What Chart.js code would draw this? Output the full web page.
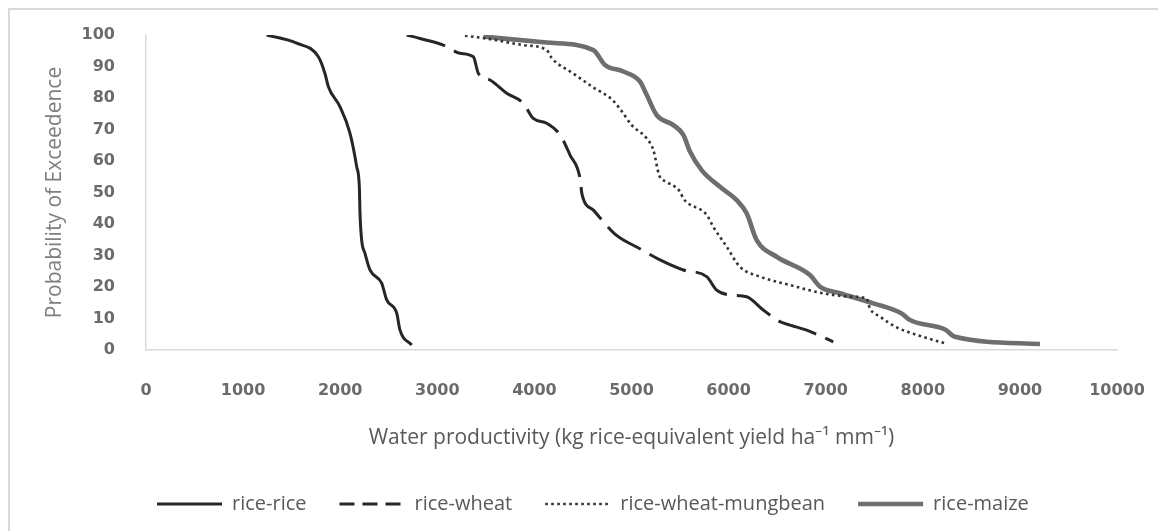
<!DOCTYPE html>
<html>
<head>
<meta charset="utf-8">
<script src="https://cdn.jsdelivr.net/npm/chart.js@4"></script>
<style>
html,body{margin:0;padding:0;background:#fff;overflow:hidden;width:1158px;height:531px;}
#frame{position:absolute;left:8px;top:8px;width:1300px;height:700px;border-left:2px solid #d9d9d9;border-top:2px solid #d9d9d9;}
#wrap{position:absolute;left:0;top:0;width:1158px;height:531px;}
</style>
</head>
<body>
<div id="frame"></div>
<div id="wrap"><canvas id="c" width="1158" height="531"></canvas></div>
<script>
// ---- data ----
const seriesNames = ['rice-rice', 'rice-wheat', 'rice-wheat-mungbean', 'rice-maize'];

const riceRiceX = [1243, 1552, 1775, 1843, 1878, 1998, 2101, 2170, 2197, 2204, 2221, 2255, 2307, 2427, 2479, 2582, 2616, 2736];
const riceRiceY = [100, 97.4, 93.1, 87.8, 83.6, 77.2, 68.8, 58.2, 51.8, 43.4, 34.9, 30.7, 25.4, 21.2, 15.9, 11.7, 6.3, 1.6];

const riceWheatX = [2685, 2822, 3062, 3234, 3371, 3423, 3543, 3715, 3886, 3989, 4127, 4264, 4367, 4470, 4490, 4607, 4830, 5095, 5294, 5534, 5774, 5877, 6014, 6186, 6357, 6529, 6633, 6804, 7078];
const riceWheatY = [100, 98.9, 96.8, 94.2, 93.1, 87.8, 85.7, 81.5, 78.3, 73.5, 72, 68.3, 61.9, 54.5, 49.5, 44.4, 36.8, 32, 28.6, 25.4, 23.3, 19, 17.5, 16.9, 12.7, 9, 7.9, 6.3, 2.6];

const mungbeanX = [3285, 3543, 3886, 4127, 4175, 4400, 4600, 4800, 4890, 5002, 5156, 5225, 5285, 5362, 5499, 5534, 5774, 5842, 5980, 6117, 6323, 6633, 6976, 7285, 7420, 7456, 7559, 7731, 7937, 8229];
const mungbeanY = [99.8, 98.7, 96.8, 95.2, 92.8, 87.8, 83.5, 79.5, 76.2, 71.4, 67.2, 63.5, 55.5, 53.4, 50.3, 48.1, 42.9, 39.1, 32.8, 26.4, 23.3, 20.6, 18, 16.9, 16.4, 13.2, 10.6, 7.2, 4.8, 2.1];

const maizeX = [3474, 4127, 4607, 4727, 4916, 5088, 5156, 5259, 5431, 5534, 5602, 5722, 5911, 6083, 6186, 6289, 6495, 6838, 6941, 7147, 7490, 7782, 7868, 8229, 8332, 9207];
const maizeY = [99.5, 97.6, 95.2, 90.5, 88.4, 85.2, 81, 74.6, 71.4, 68.3, 63, 57.1, 51.8, 47.6, 43.4, 34.9, 29.6, 23.8, 20.1, 18, 14.8, 11.6, 9.5, 6.5, 4.2, 1.9];

const xTickMin = 0, xTickMax = 10000, xTickStep = 1000;
const yTickMin = 0, yTickMax = 100, yTickStep = 10;
const xTitle = 'Water productivity (kg rice-equivalent yield ha\u207B\u00B9 mm\u207B\u00B9)';
const yTitle = 'Probability of Exceedence';

// ---- build ----
const pts = (xs, ys) => xs.map((x, i) => ({x: x, y: ys[i]}));
const common = {pointRadius: 0, pointHoverRadius: 0, fill: false, cubicInterpolationMode: 'monotone'};

const datasets = [
  Object.assign({label: seriesNames[0], data: pts(riceRiceX, riceRiceY), borderColor: '#262626', borderWidth: 3}, common),
  Object.assign({label: seriesNames[1], data: pts(riceWheatX, riceWheatY), borderColor: '#262626', borderWidth: 3, borderDash: [40, 10]}, common),
  Object.assign({label: seriesNames[2], data: pts(mungbeanX, mungbeanY), borderColor: '#333333', borderWidth: 2.6, borderDash: [2.6, 3.4]}, common),
  Object.assign({label: seriesNames[3], data: pts(maizeX, maizeY), borderColor: '#6e6e6e', borderWidth: 4.6}, common),
  Object.assign({label: '_maizeInner', data: pts(maizeX, maizeY), borderColor: '#bdbdbd', borderWidth: 1.3}, common)
];

const LEGEND_START = 157;
const layoutPlugin = {
  id: 'layoutFix',
  afterInit(chart) {
    const lg = chart.legend;
    const f = lg.fit;
    lg.fit = function() { f.call(this); this.height = 70; };
  },
  afterLayout(chart) {
    const lg = chart.legend;
    const p = lg.options.labels.padding;
    const w = lg.lineWidths[0];
    lg.left = 0;
    lg.right = 2 * LEGEND_START - p + w;
  }
};

const tickFont = {family: 'DejaVu Sans', size: 16, weight: 'bold'};
new Chart(document.getElementById('c'), {
  type: 'line',
  data: {datasets: datasets},
  plugins: [layoutPlugin],
  options: {
    responsive: false,
    animation: false,
    devicePixelRatio: 1,
    layout: {padding: {top: 35, right: 41, bottom: 0, left: 0}},
    plugins: {
      tooltip: {enabled: false},
      legend: {
        position: 'bottom',
        labels: {
          font: {family: 'Open Sans', size: 20},
          color: '#595959',
          padding: 33,
          usePointStyle: true,
          pointStyle: 'line',
          pointStyleWidth: 65,
          filter: (item) => !item.text.startsWith('_'),
          generateLabels: (chart) => {
            const items = Chart.defaults.plugins.legend.labels.generateLabels(chart);
            items.forEach(it => {
              it.pointStyle = 'line';
              if (it.text === seriesNames[1]) it.lineDash = [15, 8];
              if (it.text === seriesNames[2]) it.lineDash = [2.6, 3.4];
            });
            return items;
          }
        }
      }
    },
    scales: {
      x: {
        type: 'linear',
        min: xTickMin, max: xTickMax,
        grid: {display: false},
        border: {display: true, color: '#d9d9d9', width: 1.5},
        ticks: {stepSize: xTickStep, font: tickFont, color: '#6b6b6b', padding: 23, maxRotation: 0,
                callback: (v) => String(v)},
        title: {display: true, text: xTitle, font: {family: 'Open Sans', size: 21}, color: '#595959', padding: {top: 0, bottom: 10}},
        afterFit: (s) => { s.height = 111; s.paddingLeft = 0; s.paddingRight = 0; }
      },
      y: {
        type: 'linear',
        min: yTickMin, max: yTickMax,
        grid: {display: false},
        border: {display: true, color: '#d9d9d9', width: 1.5},
        ticks: {stepSize: yTickStep, font: tickFont, color: '#6b6b6b', padding: 23,
                callback: (v) => String(v)},
        title: {display: true, text: yTitle, font: {family: 'Open Sans', size: 21}, color: '#7f7f7f', padding: {top: 42, bottom: 0}},
        afterFit: (s) => { s.width = 146; s.paddingTop = 0; s.paddingBottom = 0; }
      }
    }
  }
});
</script>
</body>
</html>
